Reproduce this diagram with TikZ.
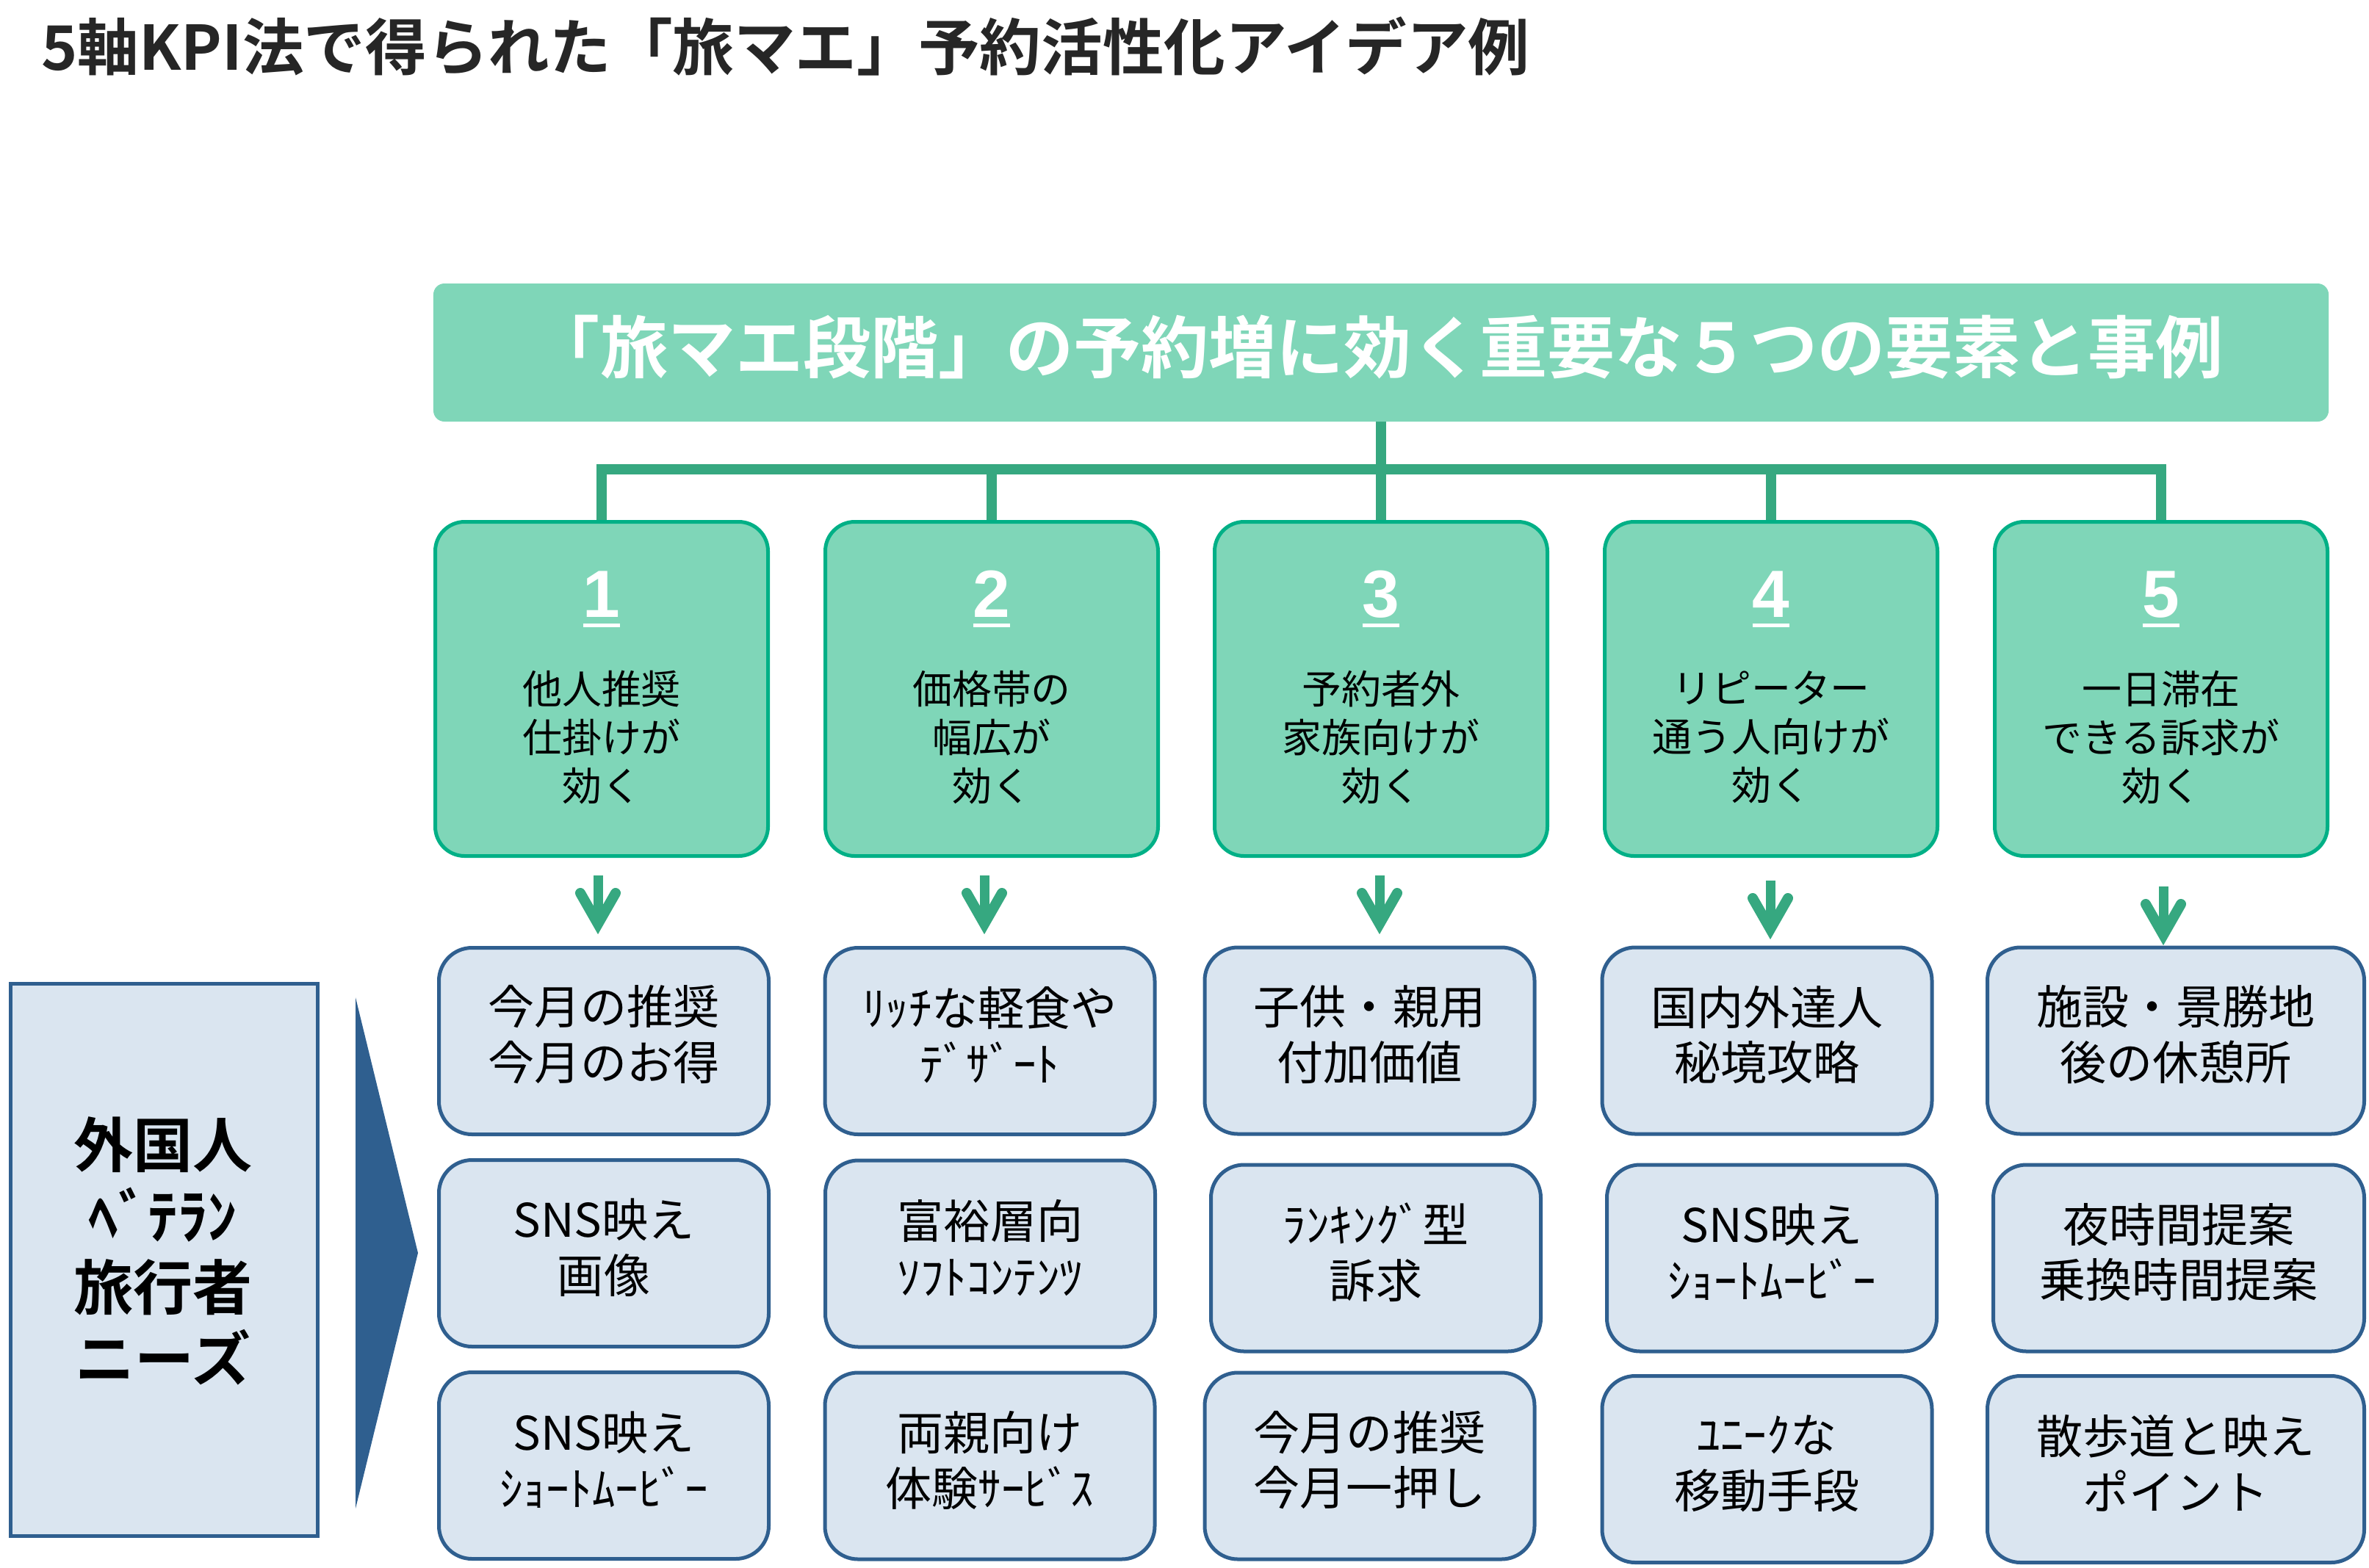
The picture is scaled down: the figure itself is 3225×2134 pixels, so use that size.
\documentclass[tikz,border=0pt]{standalone}
\usepackage{fontspec}
\usetikzlibrary{calc,backgrounds}
\newfontfamily\jpfont[BoldFont={Noto Sans CJK JP Bold}]{Noto Sans CJK JP}
\newfontfamily\numfont[BoldFont={Liberation Sans Bold}]{Liberation Sans}
\definecolor{mint}{HTML}{7FD6B8}
\definecolor{mintedge}{HTML}{00B086}
\definecolor{treegreen}{HTML}{36A880}
\definecolor{paleblue}{HTML}{DAE5F0}
\definecolor{navyedge}{HTML}{2F5F8F}
\definecolor{titlegray}{HTML}{262626}
% underlined step number
\newcommand\numul[1]{\setbox0\hbox{#1}\rlap{\rule[-8pt]{\wd0}{2.85pt}}\box0}

\tikzset{
  greenbox/.style={draw=mintedge, line width=1mm, fill=mint, rounded corners=8mm,
    minimum width=90.6mm, minimum height=91mm, inner sep=0pt},
  bluebox/.style={draw=navyedge, line width=1mm, fill=paleblue, rounded corners=9mm,
    minimum width=89.8mm, minimum height=50.8mm, inner sep=0pt},
  widebox/.style={bluebox, minimum width=102.6mm},
  cardtext/.style={align=center, inner sep=0pt, text=black,
    font=\jpfont\fontsize{35.9pt}{43.2pt}\selectfont},
  steptext/.style={align=center, inner sep=0pt, text=black,
    font=\jpfont\fontsize{30.7pt}{37.6pt}\selectfont},
  numlabel/.style={text=white, anchor=base, inner sep=0pt,
    font=\numfont\bfseries\fontsize{51.8pt}{60pt}\selectfont},
  tree/.style={draw=treegreen, line width=2.8mm, line join=miter},
  shaftstroke/.style={draw=treegreen, line width=2.6mm},
  headstroke/.style={draw=treegreen, line width=2.8mm, line cap=round, line join=miter},
  downarrow/.pic={
    \draw[shaftstroke] (0,0) -- (0,62);
    \draw[headstroke] (-24,24) -- (0,66) -- (24,24);
  }
}

\begin{document}
\begin{tikzpicture}[x=0.2mm, y=-0.2mm]
\useasboundingbox (0,0) rectangle (3225,2134);

% page title
\node[anchor=west, inner sep=0pt, text=titlegray,
      font=\jpfont\bfseries\fontsize{47.6pt}{56pt}\selectfont]
  (title) at (56,63) {5軸KPI法で得られた「旅マエ」予約活性化アイデア例};

% banner
\node[fill=mint, rounded corners=3mm, minimum width=516mm, minimum height=37.6mm,
      inner sep=0pt] (hdr) at (1880,480) {};
\node[text=white, inner sep=0pt, font=\jpfont\bfseries\fontsize{52.4pt}{60pt}\selectfont]
  (hdrtext) at (1876,472) {「旅マエ段階」の予約増に効く重要な５つの要素と事例};

% five factor boxes
\node[greenbox] (g1) at (819,938) {};
\node[greenbox] (g2) at (1350,938) {};
\node[greenbox] (g3) at (1880,938) {};
\node[greenbox] (g4) at (2411,938) {};
\node[greenbox] (g5) at (2942,938) {};

% tree from the banner to the factor boxes, kept behind the boxes
\begin{scope}[on background layer]
  \coordinate (barL) at ($(g1.north)+(0,-69.5)$);
  \draw[tree] (hdr.south) -- (hdr.south |- barL);
  \draw[tree] (g1.north) -- (barL) -| (g5.north);
  \draw[tree] (g2.north) -- (g2.north |- barL);
  \draw[tree] (g3.north) -- (g3.north |- barL);
  \draw[tree] (g4.north) -- (g4.north |- barL);
\end{scope}

% numbers and captions
\node[numlabel] (n1) at (819,840) {\numul{1}};
\node[numlabel] (n2) at (1350,840) {\numul{2}};
\node[numlabel] (n3) at (1880,840) {\numul{3}};
\node[numlabel] (n4) at (2411,840) {\numul{4}};
\node[numlabel] (n5) at (2942,840) {\numul{5}};
\node[steptext] (s1) at (819,1004) {他人推奨\\仕掛けが\\効く};
\node[steptext] (s2) at (1350,1004) {価格帯の\\幅広が\\効く};
\node[steptext] (s3) at (1880,1004) {予約者外\\家族向けが\\効く};
\node[steptext] (s4) at (2411,1004) {リピーター\\通う人向けが\\効く};
\node[steptext] (s5) at (2942,1004) {一日滞在\\できる訴求が\\効く};

% example cards
\node[bluebox] (b11) at (822,1417.5) {};
\node[bluebox] (b12) at (822,1706.5) {};
\node[bluebox] (b13) at (822,1995.5) {};
\node[bluebox] (b21) at (1347.5,1417.5) {};
\node[bluebox] (b22) at (1348,1707) {};
\node[bluebox] (b23) at (1347.5,1996) {};
\node[bluebox] (b31) at (1864.5,1417) {};
\node[bluebox] (b32) at (1873,1713) {};
\node[bluebox] (b33) at (1864.5,1996) {};
\node[bluebox] (b41) at (2405.5,1417) {};
\node[bluebox] (b42) at (2412,1713) {};
\node[bluebox] (b43) at (2405.5,2000.5) {};
\node[widebox] (b51) at (2962,1417) {};
\node[widebox, minimum width=101mm] (b52) at (2966,1713) {};
\node[widebox] (b53) at (2962,2000.5) {};

\node[cardtext] (c11) at ($(b11)+(0,-9)$) {今月の推奨\\今月のお得};
\node[cardtext] (c12) at ($(b12)+(0,-8)$) {SNS映え\\画像};
\node[cardtext] (c13) at ($(b13)+(0,-8)$) {SNS映え\\ｼｮｰﾄﾑｰﾋﾞｰ};
\node[cardtext] (c21) at ($(b21)+(0,-8)$) {ﾘｯﾁな軽食や\\ﾃﾞｻﾞｰﾄ};
\node[cardtext] (c22) at ($(b22)+(0,-8)$) {富裕層向\\ｿﾌﾄｺﾝﾃﾝﾂ};
\node[cardtext] (c23) at ($(b23)+(0,-8)$) {両親向け\\体験ｻｰﾋﾞｽ};
\node[cardtext] (c31) at ($(b31)+(0,-8)$) {子供・親用\\付加価値};
\node[cardtext] (c32) at ($(b32)+(0,-8)$) {ﾗﾝｷﾝｸﾞ型\\訴求};
\node[cardtext] (c33) at ($(b33)+(0,-8)$) {今月の推奨\\今月一押し};
\node[cardtext] (c41) at ($(b41)+(0,-8)$) {国内外達人\\秘境攻略};
\node[cardtext] (c42) at ($(b42)+(0,-8)$) {SNS映え\\ｼｮｰﾄﾑｰﾋﾞｰ};
\node[cardtext] (c43) at ($(b43)+(0,-8)$) {ﾕﾆｰｸな\\移動手段};
\node[cardtext] (c51) at ($(b51)+(0,-8)$) {施設・景勝地\\後の休憩所};
\node[cardtext] (c52) at ($(b52)+(0,-8)$) {夜時間提案\\乗換時間提案};
\node[cardtext] (c53) at ($(b53)+(0,-8)$) {散歩道と映え\\ポイント};

% arrows from factors to examples
\coordinate (a1) at (814,1192);
\coordinate (a2) at (1340,1192);
\coordinate (a3) at (1878,1192);
\coordinate (a4) at (2410,1199);
\coordinate (a5) at (2945,1207);
\foreach \k in {1,...,5} { \pic at (a\k) {downarrow}; }

% needs panel and pointer
\node[draw=navyedge, line width=0.9mm, fill=paleblue, minimum width=83.6mm,
      minimum height=150.4mm, inner sep=0pt] (needs) at (223.5,1715.5) {};
\node[align=center, inner sep=0pt, text=black,
      font=\jpfont\bfseries\fontsize{46.1pt}{55.2pt}\selectfont]
  (needstext) at (222,1703) {外国人\\ﾍﾞﾃﾗﾝ\\旅行者\\ニーズ};
\fill[navyedge] (484,1358) -- (569,1706) -- (484,2054) -- cycle;
\end{tikzpicture}
\end{document}
